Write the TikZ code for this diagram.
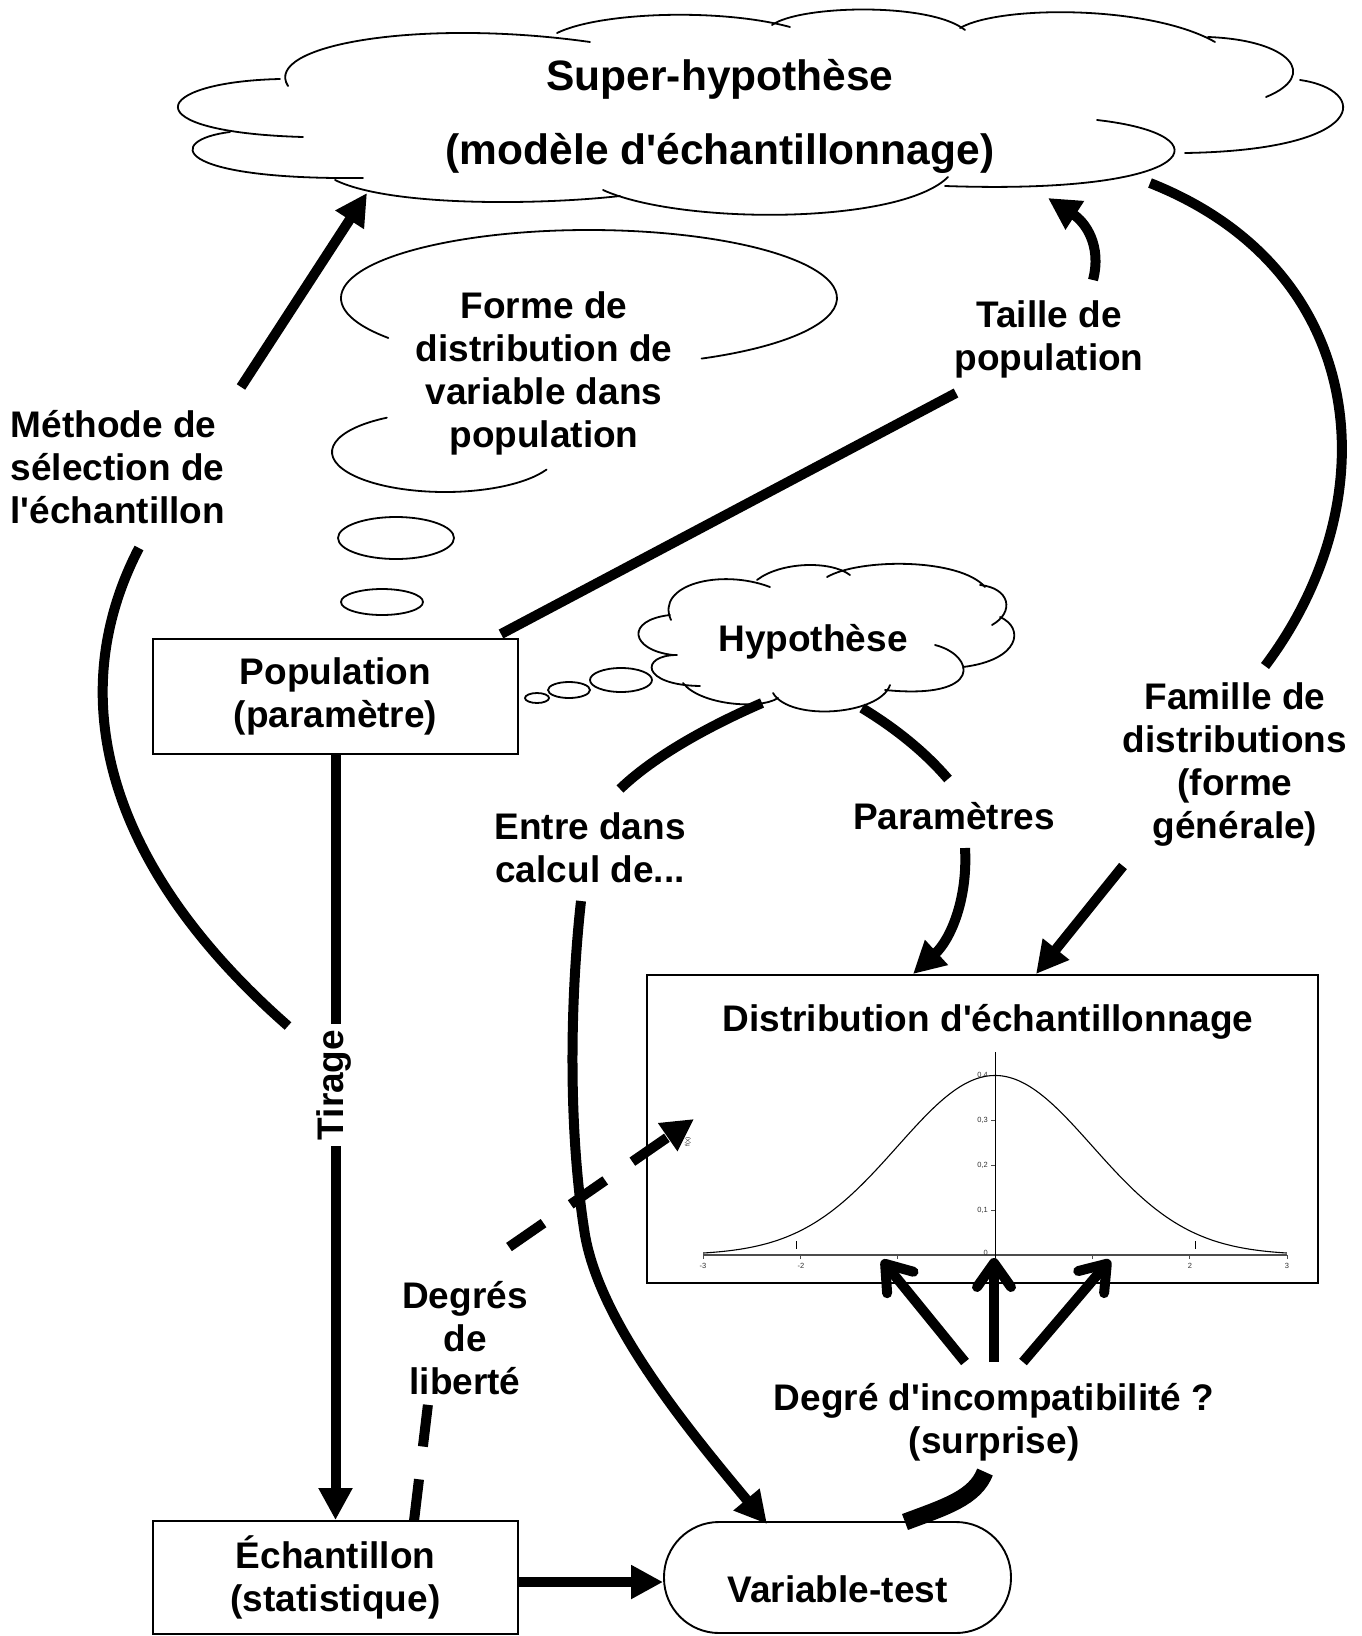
\documentclass[tikz,border=0pt]{standalone}
\usepackage{fontspec}
\setmainfont{Liberation Sans}[Ligatures=TeXOff]
\usetikzlibrary{arrows.meta,calc}
\begin{document}
\begin{tikzpicture}[x=1pt,y=-1pt,
  lab/.style={font=\bfseries\fontsize{37}{43}\selectfont, align=center, inner sep=0pt},
  cloudln/.style={line width=1.8pt, line cap=round},
  frame/.style={draw, line width=1.9pt},
  bigln/.style={line width=10pt},
  triarr/.style={-{Triangle[length=32pt,width=32pt]}},
  vbarb/.style={-{Straight Barb[length=24pt,width=34pt,round]}},
  ticklab/.style={font=\fontsize{7.5}{8}\selectfont, text=black!80, inner sep=0pt}
]
\useasboundingbox (0,0) rectangle (1361,1636);

% ---------- big cloud: Super-hypothese ----------
\draw[cloudln] (288,86) .. controls (262,45) and (420,18) .. (590,42);
\draw[cloudln] (557,33) .. controls (600,12) and (720,8) .. (790,27);
\draw[cloudln] (772,25) .. controls (800,5) and (930,2) .. (965,30);
\draw[cloudln] (960,28) .. controls (1000,5) and (1150,5) .. (1215,42);
\draw[cloudln] (1208,37) .. controls (1290,40) and (1320,75) .. (1266,97);
\draw[cloudln] (1300,80) .. controls (1370,90) and (1370,150) .. (1185,153);
\draw[cloudln] (1097,120) .. controls (1230,135) and (1200,195) .. (945,186);
\draw[cloudln] (603,190) .. controls (680,225) and (900,225) .. (948,177);
\draw[cloudln] (335,180) .. controls (390,207) and (540,205) .. (620,196);
\draw[cloudln] (230,132) .. controls (165,140) and (170,180) .. (363,178);
\draw[cloudln] (280,79) .. controls (150,82) and (130,132) .. (303,137);
\node[lab, font=\bfseries\fontsize{42.5}{74}\selectfont] (super) at (720,116) {Super-hypothèse\\(modèle d'échantillonnage)};

% ---------- thought bubble: forme ----------
\draw[cloudln, shift={(589,298)}] (144:248 and 68) arc[start angle=144, end angle=423, x radius=248, y radius=68];
\draw[cloudln, shift={(445,452)}] (239:113 and 40) arc[start angle=239, end angle=26, x radius=113, y radius=40];
\draw[cloudln] (396,538) ellipse [x radius=58, y radius=21];
\draw[cloudln] (382,602) ellipse [x radius=41, y radius=13];
\node[lab] (forme) at (544,373) {Forme de\\distribution de\\variable dans\\population};

% ---------- cloud: Hypothese ----------
\draw[cloudln] (671,620) .. controls (655,585) and (720,568) .. (770,587);
\draw[cloudln] (757,580) .. controls (780,562) and (830,560) .. (850,575);
\draw[cloudln] (827,577) .. controls (860,558) and (960,558) .. (985,587);
\draw[cloudln] (980,585) .. controls (1010,588) and (1015,612) .. (992,625);
\draw[cloudln] (1000,617) .. controls (1025,628) and (1020,660) .. (963,667);
\draw[cloudln] (935,645) .. controls (975,655) and (985,700) .. (885,690);
\draw[cloudln] (890,685) .. controls (880,715) and (790,722) .. (773,693);
\draw[cloudln] (683,683) .. controls (700,705) and (760,710) .. (778,698);
\draw[cloudln] (677,655) .. controls (640,655) and (640,685) .. (700,686);
\draw[cloudln] (670,615) .. controls (625,620) and (630,650) .. (673,655);
\draw[cloudln] (621,680) ellipse [x radius=31, y radius=12];
\draw[cloudln] (569,690) ellipse [x radius=21, y radius=8];
\draw[cloudln] (537,698) ellipse [x radius=12, y radius=5];
\node[lab] (hyp) at (813,642) {Hypothèse};

% ---------- boxes ----------
\node[frame, lab, minimum width=365pt, minimum height=115pt] (pop) at (335.5,696.5) {Population\\(paramètre)};
\node[frame, lab, minimum width=365pt, minimum height=113pt] (ech) at (335.5,1577.5) {Échantillon\\(statistique)};
\node[frame, lab, rounded corners=55pt, minimum width=347pt, minimum height=111pt, text height=58pt, text depth=8pt] (var) at (837.5,1577.5) {Variable-test};
\node[frame, minimum width=671pt, minimum height=308pt] (dist) at (982.5,1129) {};
\node[lab] (disttitle) at (988,1022) {Distribution d'échantillonnage};

% ---------- plot ----------
\draw[line width=1.4pt, black!70] (703,1255) -- (1287,1255);
\foreach \t in {-3,...,3} \draw[line width=0.8pt, black!70] ({995+97.3*\t},1255) -- ({995+97.3*\t},1259);
\draw[line width=1pt] (995,1052) -- (995,1258);
\foreach \v in {1,2,3,4} \draw[line width=0.8pt, black!70] (991,{1255-45*\v}) -- (995,{1255-45*\v});
\draw[line width=1pt] (796,1241) -- (796,1249);
\draw[line width=1pt] (1195,1241) -- (1195,1249);
\draw[line width=1.1pt, domain=-3:3, samples=121, smooth] plot ({995+97.3*\x},{1255-179.5*exp(-0.5*(\x)*(\x))});
\node[ticklab, anchor=east] (y4) at (988,1075) {0,4};
\node[ticklab, anchor=east] (y3) at (988,1120) {0,3};
\node[ticklab, anchor=east] (y2) at (988,1165) {0,2};
\node[ticklab, anchor=east] (y1) at (988,1210) {0,1};
\node[ticklab, anchor=east] (y0) at (988,1253) {0};
\node[ticklab] (xm3) at (703,1266) {-3};
\node[ticklab] (xm2) at (801,1266) {-2};
\node[ticklab] (xm1) at (898,1266) {-1};
\node[ticklab] (xp1) at (1092,1266) {1};
\node[ticklab] (xp2) at (1190,1266) {2};
\node[ticklab] (xp3) at (1287,1266) {3};
\node[ticklab, rotate=90, font=\fontsize{6.5}{7}\selectfont] (fx) at (688,1142) {f(x)};

% ---------- labels ----------
\node[lab, align=left, anchor=west] (methode) at (10.5,467) {Méthode de\\sélection de\\l'échantillon};
\node[lab] (taille) at (1049,339) {Taille de\\population};
\node[lab] (famille) at (1235,765) {Famille de\\distributions\\(forme\\générale)};
\node[lab] (entre) at (590,848) {Entre dans\\calcul de...};
\node[lab] (param) at (954,816) {Paramètres};
\node[lab] (degres) at (465,1338) {Degrés\\de\\liberté};
\node[lab] (incompat) at (994,1422) {Degré d'incompatibilité ?\\(surprise)};

% ---------- connector end points ----------
\coordinate (methodeTop) at (241,387);
\coordinate (superSW) at (367,193);
\coordinate (methodeBot) at (139,548);
\coordinate (tirageNW) at (288,1026);
\coordinate (popNE) at (501,634);
\coordinate (tailleSW) at (956,393);
\coordinate (tailleTop) at (1093,280);
\coordinate (superS) at (1048,198);
\coordinate (familleTop) at (1265,666);
\coordinate (superSE) at (1150,183);
\coordinate (familleBot) at (1123,866);
\coordinate (distNE) at (1036,974);
\coordinate (hypSW) at (762,703);
\coordinate (entreTop) at (620,789);
\coordinate (hypSE) at (862,708);
\coordinate (paramTop) at (948,779);
\coordinate (paramBot) at (965,848);
\coordinate (distN) at (913,974);
\coordinate (entreBot) at (581,901);
\coordinate (varNW) at (767,1524);
\coordinate (echDeg) at (414,1521);
\coordinate (degresBot) at (428,1404);
\coordinate (degresTop) at (509,1247);
\coordinate (distW) at (694,1119);
\coordinate (incL) at (965,1362);
\coordinate (incM) at (994,1362);
\coordinate (incR) at (1023,1362);
\coordinate (curveL) at (882,1260);
\coordinate (curveM) at (994,1258);
\coordinate (curveR) at (1110,1260);
\coordinate (incBot) at (985,1472);
\coordinate (varNE) at (905,1522);

% ---------- connectors ----------
\draw[bigln, triarr] (methodeTop) -- (superSW);
\draw[bigln] (methodeBot) .. controls (60,700) and (110,870) .. (tirageNW);
\draw[bigln, triarr] (pop.south) -- (ech.north);
\node[lab, rotate=90, fill=white, inner xsep=6pt, inner ysep=2pt] (tirage) at (334,1085) {Tirage};
\draw[bigln] (popNE) -- (tailleSW);
\draw[bigln, triarr] (tailleTop) .. controls (1102,245) and (1085,222) .. (superS);
\draw[bigln] (familleTop) .. controls (1390,500) and (1370,270) .. (superSE);
\draw[bigln, triarr] (familleBot) -- (distNE);
\draw[bigln] (hypSW) .. controls (700,730) and (650,760) .. (entreTop);
\draw[bigln] (hypSE) .. controls (895,728) and (925,752) .. (paramTop);
\draw[bigln, triarr] (paramBot) .. controls (968,900) and (950,940) .. (distN);
\draw[bigln, triarr] (entreBot) .. controls (570,1000) and (568,1130) .. (585,1235) .. controls (600,1320) and (680,1420) .. (varNW);
\draw[bigln, triarr] ($(ech.east)+(0,4.5)$) -- ($(var.west)+(0,4.5)$);
\draw[bigln, dash pattern=on 42pt off 33pt] (echDeg) -- (degresBot);
\draw[bigln, triarr, dash pattern=on 42pt off 33pt] (degresTop) -- (distW);
\draw[bigln, vbarb] (incL) -- (curveL);
\draw[bigln, vbarb] (incM) -- (curveM);
\draw[bigln, vbarb] (incR) -- (curveR);
\draw[line width=17pt] (incBot) .. controls (975,1498) and (945,1507) .. (varNE);
\end{tikzpicture}
\end{document}
